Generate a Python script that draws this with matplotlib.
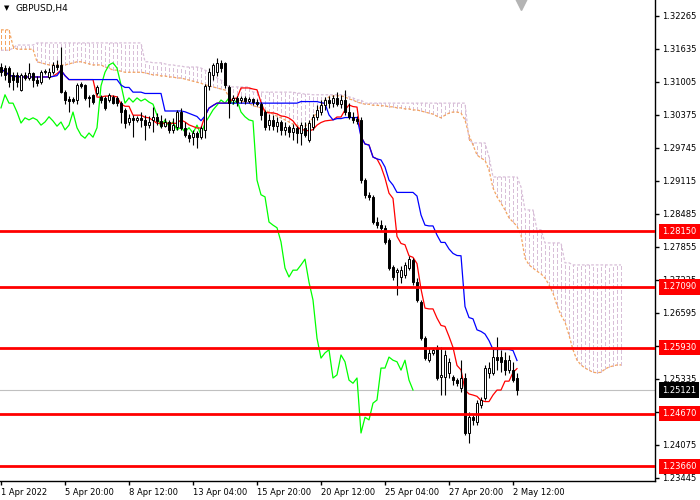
import numpy as np
import pandas as pd
import matplotlib
matplotlib.use("Agg")
import matplotlib.pyplot as plt
import matplotlib.transforms as mtransforms

# ---- GBPUSD H4 candles ----
opens = [1.3129, 1.3127, 1.3127, 1.3114, 1.3114, 1.3085, 1.3114, 1.3108, 1.3118, 1.3104,
         1.3100, 1.3119, 1.3110, 1.3119, 1.3133, 1.3133, 1.3081, 1.3068, 1.3068, 1.3066,
         1.3097, 1.3095, 1.3072, 1.3076, 1.3079, 1.3072, 1.3070, 1.3066, 1.3072, 1.3070,
         1.3060, 1.3047, 1.3024, 1.3032, 1.3028, 1.3032, 1.3028, 1.3018, 1.3028, 1.3034,
         1.3026, 1.3016, 1.3024, 1.3009, 1.3014, 1.3043, 1.3013, 1.2999, 1.2995, 1.3003,
         1.2995, 1.3009, 1.3093, 1.3114, 1.3119, 1.3137, 1.3137, 1.3091, 1.3066, 1.3070,
         1.3066, 1.3070, 1.3064, 1.3068, 1.3062, 1.3058, 1.3043, 1.3018, 1.3028, 1.3016,
         1.3024, 1.3009, 1.3014, 1.3005, 1.3013, 1.3003, 1.3013, 1.2990, 1.3014, 1.3034,
         1.3043, 1.3056, 1.3066, 1.3060, 1.3070, 1.3058, 1.3066, 1.3043, 1.3034, 1.3030,
         1.3028, 1.2913, 1.2885, 1.2881, 1.2833, 1.2827, 1.2822, 1.2799, 1.2747, 1.2737,
         1.2728, 1.2732, 1.2745, 1.2760, 1.2718, 1.2680, 1.2611, 1.2569, 1.2583, 1.2592,
         1.2537, 1.2537, 1.2545, 1.2537, 1.2531, 1.2516, 1.2535, 1.2430, 1.2460, 1.2451,
         1.2484, 1.2497, 1.2545, 1.2545, 1.2575, 1.2575, 1.2569, 1.2550, 1.2550, 1.2535]
highs = [1.3137, 1.3133, 1.3131, 1.3119, 1.3119, 1.3118, 1.3119, 1.3137, 1.3120, 1.3112,
         1.3123, 1.3125, 1.3127, 1.3139, 1.3142, 1.3167, 1.3085, 1.3074, 1.3072, 1.3098,
         1.3100, 1.3097, 1.3076, 1.3077, 1.3095, 1.3076, 1.3074, 1.3079, 1.3076, 1.3074,
         1.3064, 1.3051, 1.3039, 1.3037, 1.3035, 1.3043, 1.3037, 1.3035, 1.3053, 1.3041,
         1.3037, 1.3032, 1.3028, 1.3032, 1.3047, 1.3051, 1.3024, 1.3005, 1.3009, 1.3007,
         1.3016, 1.3097, 1.3127, 1.3137, 1.3146, 1.3142, 1.3139, 1.3095, 1.3076, 1.3074,
         1.3074, 1.3074, 1.3072, 1.3070, 1.3068, 1.3062, 1.3047, 1.3039, 1.3037, 1.3034,
         1.3028, 1.3024, 1.3018, 1.3020, 1.3016, 1.3024, 1.3024, 1.3028, 1.3039, 1.3056,
         1.3066, 1.3072, 1.3074, 1.3076, 1.3081, 1.3076, 1.3085, 1.3060, 1.3043, 1.3035,
         1.3034, 1.2917, 1.2890, 1.2885, 1.2843, 1.2837, 1.2827, 1.2802, 1.2751, 1.2745,
         1.2749, 1.2757, 1.2768, 1.2764, 1.2726, 1.2684, 1.2615, 1.2592, 1.2592, 1.2598,
         1.2594, 1.2589, 1.2573, 1.2541, 1.2535, 1.2569, 1.2545, 1.2470, 1.2464, 1.2493,
         1.2499, 1.2560, 1.2566, 1.2594, 1.2613, 1.2589, 1.2585, 1.2579, 1.2566, 1.2545]
lows = [1.3112, 1.3104, 1.3091, 1.3085, 1.3091, 1.3083, 1.3104, 1.3104, 1.3091, 1.3093,
        1.3097, 1.3116, 1.3106, 1.3116, 1.3123, 1.3079, 1.3058, 1.3043, 1.3060, 1.3058,
        1.3089, 1.3066, 1.3053, 1.3058, 1.3076, 1.3060, 1.3047, 1.3062, 1.3058, 1.3055,
        1.3022, 1.3013, 1.3018, 1.2995, 1.3024, 1.3014, 1.2990, 1.3013, 1.3005, 1.3018,
        1.3013, 1.3014, 1.3003, 1.3003, 1.3009, 1.3009, 1.2995, 1.2986, 1.2980, 1.2974,
        1.2992, 1.2993, 1.3085, 1.3104, 1.3112, 1.3119, 1.3089, 1.3032, 1.3058, 1.3055,
        1.3060, 1.3058, 1.3060, 1.3056, 1.3055, 1.3028, 1.3009, 1.3009, 1.3009, 1.3005,
        1.2999, 1.2999, 1.2995, 1.2990, 1.2984, 1.2980, 1.2995, 1.2986, 1.3009, 1.3028,
        1.3037, 1.3047, 1.3051, 1.3053, 1.3055, 1.3051, 1.3037, 1.3030, 1.3022, 1.3020,
        1.2907, 1.2879, 1.2875, 1.2829, 1.2822, 1.2818, 1.2791, 1.2741, 1.2722, 1.2694,
        1.2716, 1.2726, 1.2741, 1.2713, 1.2680, 1.2608, 1.2569, 1.2566, 1.2579, 1.2531,
        1.2503, 1.2503, 1.2535, 1.2522, 1.2520, 1.2508, 1.2426, 1.2411, 1.2445, 1.2445,
        1.2478, 1.2493, 1.2535, 1.2541, 1.2550, 1.2546, 1.2541, 1.2545, 1.2527, 1.2503]
closes = [1.3119, 1.3114, 1.3100, 1.3104, 1.3100, 1.3114, 1.3108, 1.3118, 1.3104, 1.3098,
          1.3119, 1.3121, 1.3119, 1.3133, 1.3129, 1.3081, 1.3066, 1.3064, 1.3064, 1.3095,
          1.3093, 1.3070, 1.3070, 1.3062, 1.3091, 1.3066, 1.3051, 1.3076, 1.3060, 1.3060,
          1.3043, 1.3022, 1.3032, 1.3028, 1.3032, 1.3028, 1.3018, 1.3024, 1.3034, 1.3026,
          1.3016, 1.3024, 1.3009, 1.3018, 1.3043, 1.3013, 1.2999, 1.2993, 1.3003, 1.2995,
          1.3013, 1.3093, 1.3119, 1.3133, 1.3137, 1.3127, 1.3095, 1.3060, 1.3070, 1.3062,
          1.3070, 1.3064, 1.3068, 1.3062, 1.3058, 1.3037, 1.3014, 1.3028, 1.3016, 1.3024,
          1.3009, 1.3014, 1.3005, 1.3013, 1.3003, 1.3018, 1.2999, 1.3022, 1.3034, 1.3047,
          1.3056, 1.3066, 1.3060, 1.3070, 1.3058, 1.3066, 1.3043, 1.3034, 1.3028, 1.3026,
          1.2913, 1.2885, 1.2881, 1.2833, 1.2827, 1.2822, 1.2795, 1.2745, 1.2728, 1.2741,
          1.2741, 1.2751, 1.2762, 1.2718, 1.2684, 1.2611, 1.2573, 1.2583, 1.2589, 1.2535,
          1.2541, 1.2579, 1.2566, 1.2531, 1.2525, 1.2535, 1.2430, 1.2460, 1.2455, 1.2487,
          1.2493, 1.2554, 1.2554, 1.2575, 1.2569, 1.2566, 1.2550, 1.2569, 1.2531, 1.2512]

# ---- Ichimoku cloud spans (shifted 26 bars ahead) ----
senkou_a = [1.3200, 1.3200, 1.3200, 1.3169, 1.3163, 1.3163, 1.3163, 1.3163, 1.3163, 1.3139,
            1.3137, 1.3135, 1.3133, 1.3133, 1.3133, 1.3133, 1.3133, 1.3135, 1.3137, 1.3139,
            1.3139, 1.3137, 1.3135, 1.3133, 1.3133, 1.3133, 1.3129, 1.3127, 1.3123, 1.3123,
            1.3121, 1.3119, 1.3119, 1.3119, 1.3119, 1.3119, 1.3118, 1.3116, 1.3114, 1.3114,
            1.3112, 1.3112, 1.3110, 1.3110, 1.3108, 1.3108, 1.3106, 1.3104, 1.3102, 1.3100,
            1.3098, 1.3095, 1.3093, 1.3091, 1.3089, 1.3087, 1.3085, 1.3072, 1.3070, 1.3066,
            1.3064, 1.3062, 1.3060, 1.3055, 1.3053, 1.3051, 1.3047, 1.3043, 1.3039, 1.3035,
            1.3032, 1.3028, 1.3024, 1.3020, 1.3018, 1.3014, 1.3016, 1.3022, 1.3032, 1.3043,
            1.3055, 1.3066, 1.3072, 1.3074, 1.3074, 1.3074, 1.3072, 1.3068, 1.3066, 1.3062,
            1.3060, 1.3058, 1.3058, 1.3056, 1.3056, 1.3055, 1.3055, 1.3053, 1.3053, 1.3051,
            1.3051, 1.3049, 1.3049, 1.3047, 1.3047, 1.3045, 1.3043, 1.3041, 1.3039, 1.3035,
            1.3032, 1.3037, 1.3041, 1.3043, 1.3043, 1.3041, 1.3028, 1.2999, 1.2980, 1.2961,
            1.2955, 1.2951, 1.2932, 1.2898, 1.2881, 1.2869, 1.2856, 1.2841, 1.2833, 1.2825,
            1.2808, 1.2764, 1.2751, 1.2745, 1.2739, 1.2734, 1.2726, 1.2713, 1.2697, 1.2674,
            1.2655, 1.2642, 1.2617, 1.2589, 1.2569, 1.2560, 1.2554, 1.2550, 1.2546, 1.2545,
            1.2546, 1.2552, 1.2556, 1.2558, 1.2560, 1.2560]
senkou_b = [1.3161, 1.3161, 1.3161, 1.3165, 1.3171, 1.3171, 1.3171, 1.3171, 1.3171, 1.3175,
            1.3175, 1.3175, 1.3175, 1.3175, 1.3175, 1.3175, 1.3175, 1.3175, 1.3175, 1.3175,
            1.3175, 1.3175, 1.3175, 1.3175, 1.3175, 1.3175, 1.3175, 1.3175, 1.3175, 1.3175,
            1.3175, 1.3175, 1.3175, 1.3175, 1.3175, 1.3175, 1.3139, 1.3139, 1.3137, 1.3137,
            1.3137, 1.3135, 1.3133, 1.3133, 1.3131, 1.3131, 1.3129, 1.3129, 1.3129, 1.3129,
            1.3127, 1.3123, 1.3119, 1.3114, 1.3108, 1.3104, 1.3098, 1.3091, 1.3091, 1.3091,
            1.3091, 1.3091, 1.3091, 1.3081, 1.3081, 1.3081, 1.3081, 1.3081, 1.3081, 1.3081,
            1.3081, 1.3081, 1.3081, 1.3081, 1.3079, 1.3079, 1.3077, 1.3077, 1.3076, 1.3076,
            1.3076, 1.3076, 1.3076, 1.3076, 1.3076, 1.3076, 1.3076, 1.3072, 1.3070, 1.3066,
            1.3066, 1.3060, 1.3060, 1.3060, 1.3060, 1.3060, 1.3060, 1.3060, 1.3060, 1.3060,
            1.3060, 1.3060, 1.3060, 1.3060, 1.3060, 1.3060, 1.3060, 1.3060, 1.3060, 1.3060,
            1.3060, 1.3060, 1.3060, 1.3060, 1.3060, 1.3060, 1.3060, 1.2990, 1.2984, 1.2984,
            1.2984, 1.2984, 1.2957, 1.2919, 1.2919, 1.2919, 1.2919, 1.2919, 1.2919, 1.2919,
            1.2900, 1.2856, 1.2856, 1.2856, 1.2818, 1.2818, 1.2793, 1.2793, 1.2793, 1.2793,
            1.2793, 1.2755, 1.2755, 1.2751, 1.2751, 1.2751, 1.2751, 1.2751, 1.2751, 1.2751,
            1.2751, 1.2751, 1.2751, 1.2751, 1.2751, 1.2751]

levels = [1.28150, 1.27090, 1.25930, 1.24670, 1.23660]
last_price = 1.25121

ytick_vals = [1.23445, 1.24075, 1.24705, 1.25335, 1.25965, 1.26595, 1.27225, 1.27855,
              1.28485, 1.29115, 1.29745, 1.30375, 1.31005, 1.31635, 1.32265]
# price labels hidden behind the level boxes in the terminal
hidden_ticks = [1.24705, 1.25965]
xtick_bars = [0, 16, 32, 48, 64, 80, 96, 112, 128]
xtick_labels = ["1 Apr 2022", "5 Apr 20:00", "8 Apr 12:00", "13 Apr 04:00", "15 Apr 20:00",
                "20 Apr 12:00", "25 Apr 04:00", "27 Apr 20:00", "2 May 12:00"]

# ===========================================

plt.rcParams['font.family'] = ['DejaVu Sans']
fsize = 6

n = len(closes)
x = np.arange(n)
hi = pd.Series(highs)
lo = pd.Series(lows)
tenkan = (hi.rolling(9, min_periods=1).max() + lo.rolling(9, min_periods=1).min()) / 2
kijun = (hi.rolling(26, min_periods=1).max() + lo.rolling(26, min_periods=1).min()) / 2

fig = plt.figure(figsize=(7, 5), dpi=100)
ax = fig.add_axes([0, 19 / 500, 655 / 700, 481 / 500])
ax.set_xlim(-0.25, 163.5)
ax.set_ylim(1.23383, 1.3257)

### Cloud: dotted vertical hatch, one per bar
xc = np.arange(len(senkou_a))
sa = np.array(senkou_a)
sb = np.array(senkou_b)
hatch_cols = ['#F4A460' if a > b else '#D8BFD8' for a, b in zip(sa, sb)]
ax.vlines(xc, np.minimum(sa, sb), np.maximum(sa, sb), colors=hatch_cols,
          linestyles=(0, (3, 2)), lw=0.75, antialiased=False, zorder=1)
ax.plot(xc, sa, color='#F4A460', ls=(0, (2.2, 1.5)), lw=0.9, zorder=1)
ax.plot(xc, sb, color='#D8BFD8', ls=(0, (2.2, 1.5)), lw=0.9, zorder=1)

### current price line
ax.axhline(last_price, color='#C0C0C0', lw=0.8, zorder=1)

### Chikou (close shifted back 26 bars), Tenkan, Kijun
ax.plot(x[26:] - 26, closes[26:], color='#00FF00', lw=0.9, zorder=2)
ax.plot(x, tenkan, color='red', lw=0.9, zorder=2)
ax.plot(x, kijun, color='blue', lw=0.9, zorder=2)

### Candles
for i in range(n):
    o, h, l, c = opens[i], highs[i], lows[i], closes[i]
    ax.vlines(i, l, h, color='black', lw=0.8, zorder=3)
    body = max(abs(c - o), 0.00006)
    fc = 'white' if c > o else 'black'
    ax.bar(i, body, bottom=min(o, c), width=0.72, color=fc, edgecolor='black',
           linewidth=0.7, zorder=4)

### Horizontal levels with price boxes
box_kw = dict(xycoords=('axes fraction', 'data'), xytext=(5, 0),
              textcoords='offset points', ha='left', va='center', fontsize=fsize,
              color='white', annotation_clip=False, zorder=10)
for lv in levels:
    ax.axhline(lv, color='red', lw=2, zorder=5)
    ax.annotate("%.5f" % lv, xy=(1, lv),
                bbox=dict(boxstyle='square,pad=0.4', fc='red', ec='none'), **box_kw)
ax.annotate("%.5f" % last_price, xy=(1, last_price),
            bbox=dict(boxstyle='square,pad=0.4', fc='black', ec='none'), **box_kw)

### Axes styling
ax.yaxis.tick_right()
ax.set_yticks(ytick_vals)
ax.set_yticklabels(["" if v in hidden_ticks else "%.5f" % v for v in ytick_vals])
ax.set_xticks(xtick_bars)
ax.set_xticklabels(xtick_labels)
for lab in ax.get_xticklabels():
    lab.set_ha('left')
ax.tick_params(axis='both', direction='out', length=3, width=1, labelsize=fsize,
               colors='black', pad=2)
for s in ['left', 'top']:
    ax.spines[s].set_visible(False)
for s in ['right', 'bottom']:
    ax.spines[s].set_linewidth(1)

# chart shift marker at the top
trans = mtransforms.blended_transform_factory(ax.transData, ax.transAxes)
ax.plot([130], [1 - 4 / 481], marker='v', ms=9, color='#B4B4B4', transform=trans,
        clip_on=False, zorder=6)

fig.text(4 / 700, 1 - 8 / 500, u'\u25bc', fontsize=5, va='center', ha='left')
fig.text(15 / 700, 1 - 8 / 500, 'GBPUSD,H4', fontsize=6.5, va='center', ha='left')

plt.savefig('out.png', dpi=100, facecolor='white')
